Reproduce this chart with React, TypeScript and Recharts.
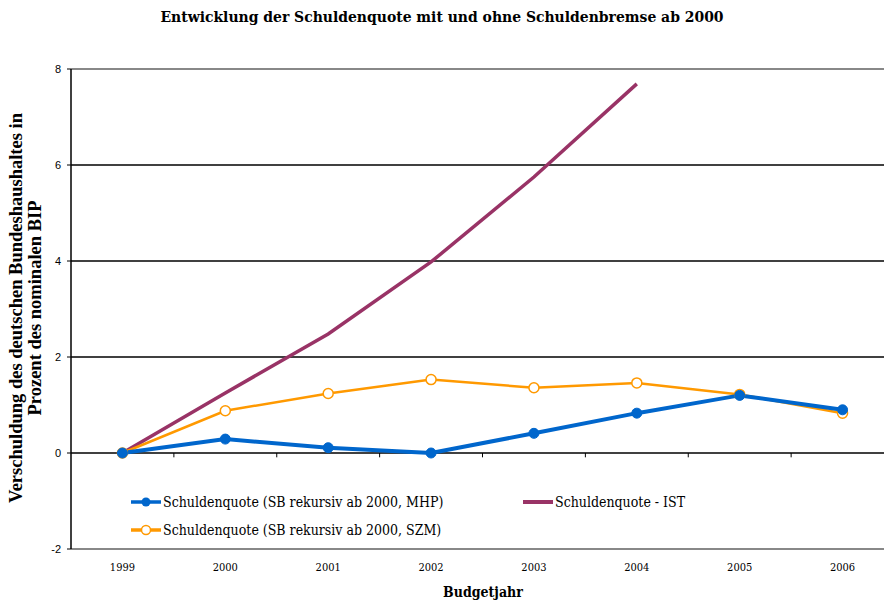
import { LineChart, Line, XAxis, YAxis, ReferenceLine } from "recharts";

const years = ["1999", "2000", "2001", "2002", "2003", "2004", "2005", "2006"];
const mhp = [0, 0.29, 0.11, 0.0, 0.41, 0.83, 1.2, 0.9];
const szm = [0, 0.88, 1.24, 1.53, 1.36, 1.46, 1.22, 0.83];
const ist: (number | null)[] = [0, 1.25, 2.48, 3.98, 5.75, 7.69, null, null];
const yTicks = [-2, 0, 2, 4, 6, 8];
const gridValues = [0, 2, 4, 6];
const boundaries = [0.5, 1.5, 2.5, 3.5, 4.5, 5.5, 6.5];

const data = years.map((y, i) => ({ x: i, year: y, mhp: mhp[i], szm: szm[i], ist: ist[i] }));

const serif = "'DejaVu Serif Condensed', 'DejaVu Serif', Georgia, serif";
const times = "'Liberation Serif', 'Times New Roman', serif";

const BLUE = "#0066cc";
const ORANGE = "#ff9900";
const PURPLE = "#993366";

function LegendBox() {
  const item = (color: string, label: string, marker: "dot" | "ring" | "none", left: number, top: number) => (
    <div style={{ position: "absolute", left, top, display: "flex", alignItems: "center", whiteSpace: "nowrap" }}>
      <svg width={32} height={14}>
        <line x1={1} y1={7} x2={31} y2={7} stroke={color} strokeWidth={marker === "none" ? 4 : 3.5} />
        {marker === "dot" && <circle cx={16} cy={7} r={4.5} fill={color} />}
        {marker === "ring" && <circle cx={16} cy={7} r={4.5} fill="#fff" stroke={color} strokeWidth={1.5} />}
      </svg>
      <span style={{ fontFamily: serif, fontStretch: "condensed", fontSize: 14, color: "#000", marginLeft: 1 }}>{label}</span>
    </div>
  );
  return (
    <>
      {item(BLUE, "Schuldenquote (SB rekursiv ab 2000, MHP)", "dot", 130, 494)}
      {item(PURPLE, "Schuldenquote - IST", "none", 522, 494)}
      {item(ORANGE, "Schuldenquote (SB rekursiv ab 2000, SZM)", "ring", 130, 522)}
    </>
  );
}

export default function App() {
  return (
    <div style={{ position: "absolute", left: 0, top: 0, width: 884, height: 606, overflow: "hidden", background: "#fff" }}>
      <div
        style={{
          position: "absolute",
          top: 7,
          width: 884,
          textAlign: "center",
          fontFamily: serif,
          fontStretch: "condensed",
          fontWeight: "bold",
          fontSize: 15.5,
        }}
      >
        Entwicklung der Schuldenquote mit und ohne Schuldenbremse ab 2000
      </div>
      <div
        style={{
          position: "absolute",
          left: 26,
          top: 308,
          width: 460,
          transform: "translate(-50%, -50%) rotate(-90deg)",
          textAlign: "center",
          fontFamily: times,
          fontWeight: "bold",
          fontSize: 18.5,
          lineHeight: "19px",
        }}
      >
        Verschuldung des deutschen Bundeshaushaltes in
        <br />
        Prozent des nominalen BIP
      </div>
      <div
        style={{
          position: "absolute",
          top: 584,
          left: 483,
          transform: "translateX(-50%)",
          fontFamily: serif,
          fontStretch: "condensed",
          fontWeight: "bold",
          fontSize: 14,
        }}
      >
        Budgetjahr
      </div>
      <div style={{ position: "absolute", left: 0, top: 0 }}>
        <LineChart width={900} height={606} data={data} margin={{ top: 69, right: 6, bottom: 27, left: 0 }}>
          <XAxis
            dataKey="x"
            type="number"
            domain={[-0.5, 7.5]}
            ticks={[0, 1, 2, 3, 4, 5, 6, 7]}
            tickFormatter={(v: number) => years[v]}
            height={30}
            axisLine={{ stroke: "#888", strokeWidth: 2 }}
            tickLine={false}
            tickMargin={8}
            tick={{ fontFamily: serif, fontSize: 11, fill: "#000" }}
          />
          <YAxis
            type="number"
            domain={[-2, 8]}
            ticks={yTicks}
            width={71}
            axisLine={{ stroke: "#000", strokeWidth: 1.5 }}
            tickLine={{ stroke: "#000" }}
            tickSize={4}
            tickMargin={6}
            tick={{ fontFamily: "'Liberation Sans', Arial, sans-serif", fontSize: 11, fill: "#000" }}
          />
          <ReferenceLine y={8} stroke="#888" strokeWidth={2} />
          {gridValues.map((v) => (
            <ReferenceLine key={v} y={v} stroke="#000" strokeWidth={1.3} />
          ))}
          {boundaries.map((b) => (
            <ReferenceLine
              key={b}
              segment={[
                { x: b, y: 0 },
                { x: b, y: -0.09 },
              ]}
              stroke="#000"
            />
          ))}
          <Line
            dataKey="ist"
            stroke={PURPLE}
            strokeWidth={3.5}
            dot={false}
            isAnimationActive={false}
          />
          <Line
            dataKey="szm"
            stroke={ORANGE}
            strokeWidth={2.5}
            dot={{ r: 5, fill: "#fff", stroke: ORANGE, strokeWidth: 1.5 }}
            isAnimationActive={false}
          />
          <Line
            dataKey="mhp"
            stroke={BLUE}
            strokeWidth={4}
            dot={{ r: 5, fill: BLUE, stroke: BLUE, strokeWidth: 1 }}
            isAnimationActive={false}
          />
        </LineChart>
      </div>
      <LegendBox />
    </div>
  );
}
